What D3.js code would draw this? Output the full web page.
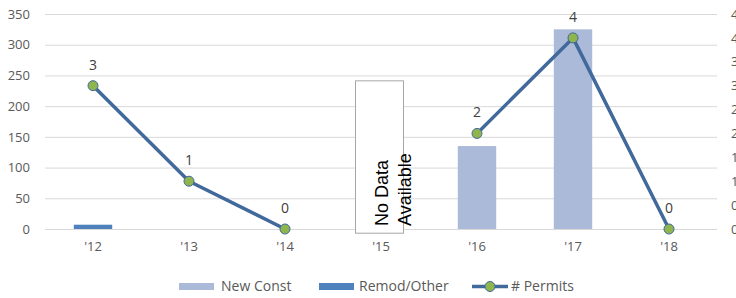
<!DOCTYPE html>
<html><head><meta charset="utf-8">
<script src="https://cdn.jsdelivr.net/npm/d3@7"></script>
<style>
body{margin:0;background:#fff;}
svg{display:block;font-family:"Open Sans",sans-serif;}
</style></head>
<body><svg id="c" width="736" height="298"></svg>
<script>
const categories = ["'12","'13","'14","'15","'16","'17","'18"];
const newConst   = [0, 0, 0, null, 135, 325, 0];
const remodOther = [7, 0, 0, null, 0, 0, 0];
const permits    = [3, 1, 0, null, 2, 4, 0];
const leftTicks  = [0,50,100,150,200,250,300,350];
const rightTicks = [0,0.5,1,1.5,2,2.5,3,3.5,4,4.5];
const noDataCat = "'15", noDataTop = 242, noDataBottom = -6;
const seriesNames = ["New Const","Remod/Other","# Permits"];
const colors = {newConst:"#abbad8", remod:"#4f81bd", line:"#41699b", marker:"#8fb54f", grid:"#d9d9d9", text:"#595959", label:"#404040"};

const svg = d3.select("#c");
const x = d3.scaleBand().domain(categories).range([45,717]);
const y = d3.scaleLinear().domain([0,350]).range([229,14]);
const y2 = d3.scaleLinear().domain([0,4.5]).range([229,14]);
const bw = x.bandwidth()*0.4;

// gridlines
svg.append("g").selectAll("line").data(leftTicks).join("line")
  .attr("x1",45).attr("x2",717).attr("y1",d=>y(d)+0.5).attr("y2",d=>y(d)+0.5)
  .attr("stroke",colors.grid).attr("stroke-width",1);

// left axis
const la = svg.append("g").attr("transform","translate(45,0)")
  .call(d3.axisLeft(y).tickValues(leftTicks).tickSize(0).tickPadding(15));
la.select(".domain").remove();
la.selectAll("text").attr("fill",colors.text).style("font-size","13px").style("font-family","Open Sans");

// right axis (clipped by the window edge, as in the reference)
const ra = svg.append("g").attr("transform","translate(717,0)")
  .call(d3.axisRight(y2).tickValues(rightTicks).tickSize(0).tickPadding(14).tickFormat(d3.format("")));
ra.select(".domain").remove();
ra.selectAll("text").attr("fill",colors.text).style("font-size","13px").style("font-family","Open Sans");

// x axis
const xa = svg.append("g").attr("transform","translate(0,229)")
  .call(d3.axisBottom(x).tickSize(0).tickPadding(13));
xa.select(".domain").remove();
xa.selectAll("text").attr("fill",colors.text).style("font-size","13px").style("font-family","Open Sans");

// stacked bars
const rows = categories.map((c,i)=>({c, remod: remodOther[i]||0, nc: newConst[i]||0}));
svg.append("g").selectAll("rect").data(rows.filter(r=>r.remod>0)).join("rect")
  .attr("x",d=>x(d.c)+(x.bandwidth()-bw)/2).attr("width",bw)
  .attr("y",d=>y(d.remod)).attr("height",d=>y(0)-y(d.remod)).attr("fill",colors.remod);
svg.append("g").selectAll("rect").data(rows.filter(r=>r.nc>0)).join("rect")
  .attr("x",d=>x(d.c)+(x.bandwidth()-bw)/2).attr("width",bw)
  .attr("y",d=>y(d.remod+d.nc)).attr("height",d=>y(d.remod)-y(d.remod+d.nc)).attr("fill",colors.newConst);

// No data box
const nbw = x.bandwidth()*0.5;
const nx = x(noDataCat)+(x.bandwidth()-nbw)/2;
svg.append("rect").attr("x",nx-1.5).attr("y",y(noDataTop)+0.5).attr("width",nbw).attr("height",y(noDataBottom)-y(noDataTop))
  .attr("fill","#fff").attr("stroke","#a6a6a6").attr("stroke-width",1);
const ncx = x(noDataCat)+x.bandwidth()/2;
const nt = svg.append("text").attr("transform",`translate(${ncx+19},${y(0)-3}) rotate(-90)`)
  .style("font-family","Liberation Sans, Arial").style("font-size","18px").attr("fill","#000");
nt.append("tspan").attr("x",0).attr("dy",-12).text("No Data");
nt.append("tspan").attr("x",0).attr("dy",23).text("Available");

// line
const pts = categories.map((c,i)=>({c, v: permits[i]}));
const line = d3.line().defined(d=>d.v!=null).x(d=>x(d.c)+x.bandwidth()/2).y(d=>y2(d.v));
svg.append("path").datum(pts).attr("d",line).attr("fill","none")
  .attr("stroke",colors.line).attr("stroke-width",3.5).attr("stroke-linejoin","round");
const valid = pts.filter(d=>d.v!=null);
svg.append("g").selectAll("circle").data(valid).join("circle")
  .attr("cx",d=>x(d.c)+x.bandwidth()/2).attr("cy",d=>y2(d.v)).attr("r",5)
  .attr("fill",colors.marker).attr("stroke",colors.line).attr("stroke-width",1);
svg.append("g").selectAll("text").data(valid).join("text")
  .attr("x",d=>x(d.c)+x.bandwidth()/2).attr("y",d=>y2(d.v)-16)
  .attr("text-anchor","middle").attr("fill",colors.label)
  .style("font-size","14px").style("font-family","Open Sans").text(d=>d.v);

// legend
const lg = svg.append("g").style("font-size","14px").style("font-family","Open Sans");
lg.append("rect").attr("x",179).attr("y",283).attr("width",35).attr("height",7).attr("fill",colors.newConst);
lg.append("text").attr("x",221).attr("y",291).attr("fill",colors.text).text(seriesNames[0]);
lg.append("rect").attr("x",319).attr("y",283).attr("width",35).attr("height",7).attr("fill",colors.remod);
lg.append("text").attr("x",359).attr("y",291).attr("fill",colors.text).text(seriesNames[1]);
lg.append("line").attr("x1",472).attr("x2",508).attr("y1",286.5).attr("y2",286.5).attr("stroke",colors.line).attr("stroke-width",3.5);
lg.append("circle").attr("cx",490).attr("cy",286.5).attr("r",5).attr("fill",colors.marker).attr("stroke",colors.line);
lg.append("text").attr("x",511).attr("y",291).attr("fill",colors.text).text(seriesNames[2]);
</script></body></html>
